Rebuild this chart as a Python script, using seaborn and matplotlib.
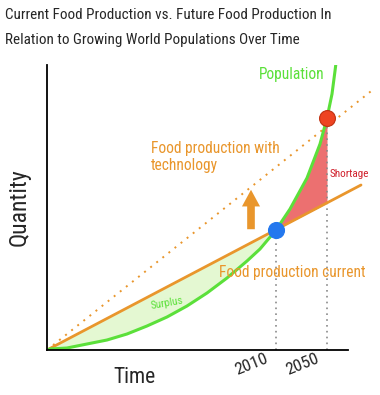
import numpy as np
import pandas as pd
import matplotlib.pyplot as plt
import seaborn as sns

# values (x = time units, y = quantity units)
time_pts = [0, 3, 20, 40, 60, 80, 100, 120, 140, 160, 180, 200, 213, 229,
            243, 260, 273, 280, 285, 288, 290]
population = [0, 1, 2, 6, 10, 16, 24, 33, 44, 57, 72, 89, 101, 120,
              141, 172, 206, 232, 256, 279, 295]
prod_x = [0, 314]
prod_current = [0, 165]
tech_x = [0, 328]
tech_y = [0, 262]
year_x = [229, 280]
year_labels = ['2010', '2050']
year_pop = [120, 232]
cur_slope = 0.525

sns.set_style('white')
plt.rcParams['font.family'] = ['Roboto Condensed', 'DejaVu Sans']

green = '#5be03a'
orange = '#e9962c'

fig = plt.figure(figsize=(3.8, 3.95), dpi=100)
ax = fig.add_axes([47/380, 45/395, 328/380, 285/395])

df_pop = pd.DataFrame({'t': time_pts, 'q': population})
tp = np.array(time_pts)
pop_cur = tp * cur_slope

# surplus / shortage fills
ax.fill_between(tp, pop_cur, population, where=tp <= year_x[0], color='#e4f8d2',
                lw=0, interpolate=True)
ax.fill_between(tp, pop_cur, population, where=(tp >= year_x[0]) & (tp <= year_x[1]),
                color='#ec7070', lw=0)

sns.lineplot(x=tech_x, y=tech_y, ax=ax, color=orange, lw=1.4, linestyle=(0, (1, 3)))
sns.lineplot(x=prod_x, y=prod_current, ax=ax, color=orange, lw=2)
sns.lineplot(data=df_pop, x='t', y='q', ax=ax, color=green, lw=2.2, sort=False)

for x, y in zip(year_x, year_pop):
    ax.plot([x, x], [0, y], color='#8a8a8a', lw=1.2, linestyle=(0, (1, 2.5)), zorder=1)

sns.scatterplot(x=[year_x[0]], y=[year_pop[0]], ax=ax, s=130, color='#2478ee',
                edgecolor='#2478ee', zorder=5)
sns.scatterplot(x=[year_x[1]], y=[year_pop[1]], ax=ax, s=130, color='#ee4422',
                edgecolor='#c03010', linewidth=0.8, zorder=5)

ax.annotate('', xy=(204, 163), xytext=(204, 118),
            arrowprops=dict(arrowstyle='simple,head_width=1.3,head_length=1.2,tail_width=0.55',
                            color=orange, lw=0))

ax.text(212, 275, 'Population', color=green, fontsize=11.2, va='center')
ax.text(104, 193, 'Food production with\ntechnology', color=orange, fontsize=11.2,
        va='center', linespacing=1.1)
ax.text(283, 176, 'Shortage', color='#d0202c', fontsize=8, va='center')
ax.text(172, 78, 'Food production current', color=orange, fontsize=11.2, va='center')
ax.text(120, 47, 'Surplus', color=green, fontsize=8, va='center', ha='center', rotation=10)

ax.set_xlim(0, 328)
ax.set_ylim(0, 285)
# labels sit a little left of the dotted year lines
ax.set_xticks([x - 6 for x in year_x])
ax.set_xticklabels(year_labels, rotation=22, ha='right', fontsize=12.5)
ax.set_yticks([])
ax.tick_params(axis='x', length=0, pad=1)
ax.set_xlabel('Time', fontsize=15.5)
ax.xaxis.set_label_coords(88/328, -0.058)
ax.set_ylabel('Quantity', fontsize=17)
ax.yaxis.set_label_coords(-16/328, 0.5)

for s in ['top', 'right']:
    ax.spines[s].set_visible(False)
for s in ['left', 'bottom']:
    ax.spines[s].set_color('black')
    ax.spines[s].set_linewidth(1.3)
ax.spines['bottom'].set_bounds(0, 301)

fig.text(5/380, 1 - 15/395, 'Current Food Production vs. Future Food Production In',
         fontsize=10.9, va='center', ha='left')
fig.text(5/380, 1 - 40/395, 'Relation to Growing World Populations Over Time',
         fontsize=10.9, va='center', ha='left')

fig.savefig('out.png', dpi=100, facecolor='white')
